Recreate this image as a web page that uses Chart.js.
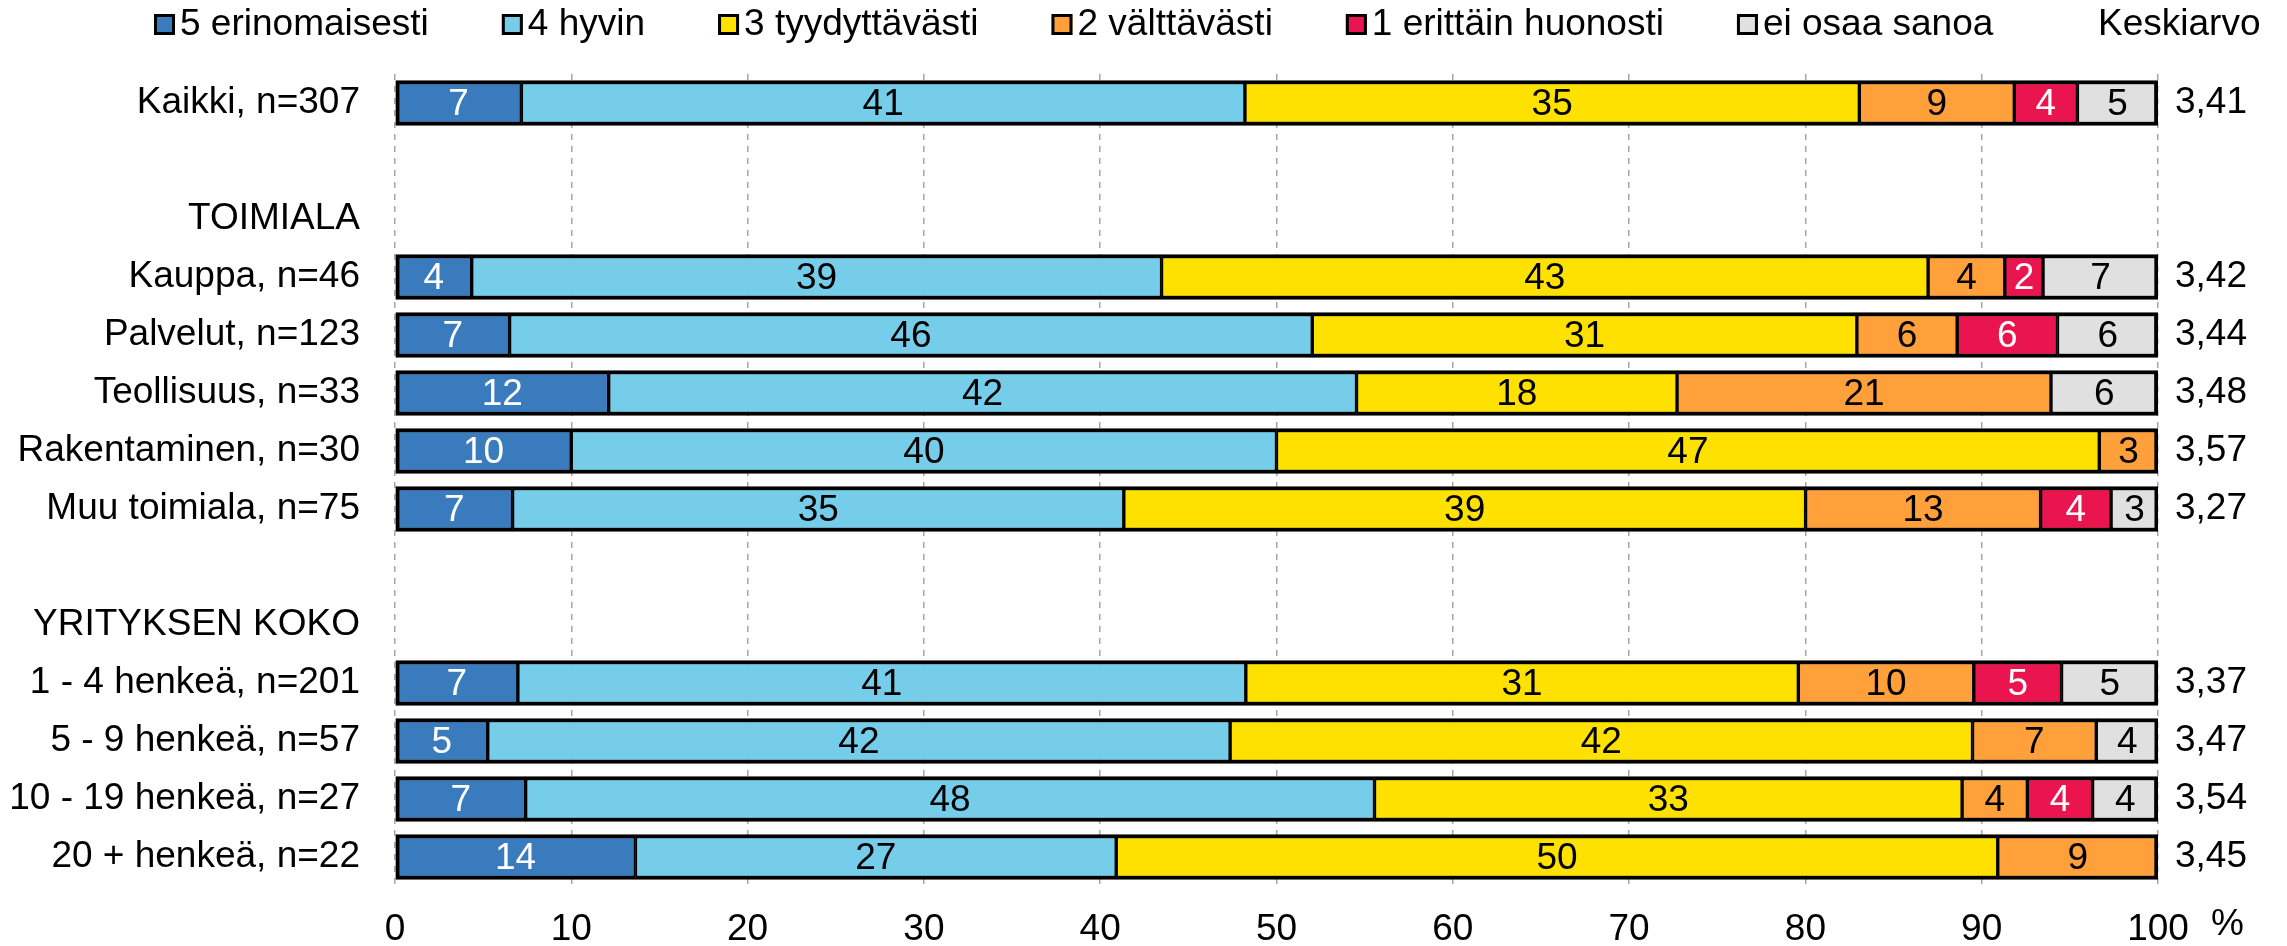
<!DOCTYPE html>
<html>
<head>
<meta charset="utf-8">
<script src="https://cdn.jsdelivr.net/npm/chart.js@4"></script>
<style>
  body { margin: 0; background: #fff; }
  canvas { display: block; }
</style>
</head>
<body>
<canvas id="chart" width="2287" height="946"></canvas>
<script>

var categories = [
  "Kaikki, n=307",
  "",
  "TOIMIALA",
  "Kauppa, n=46",
  "Palvelut, n=123",
  "Teollisuus, n=33",
  "Rakentaminen, n=30",
  "Muu toimiala, n=75",
  "",
  "YRITYKSEN KOKO",
  "1 - 4 henkeä, n=201",
  "5 - 9 henkeä, n=57",
  "10 - 19 henkeä, n=27",
  "20 + henkeä, n=22"
];

var averages = [
  "3,41", "", "",
  "3,42", "3,44", "3,48", "3,57", "3,27",
  "", "",
  "3,37", "3,47", "3,54", "3,45"
];

var seriesNames = [
  "5 erinomaisesti",
  "4 hyvin",
  "3 tyydyttävästi",
  "2 välttävästi",
  "1 erittäin huonosti",
  "ei osaa sanoa"
];

// percentages per row
var erinomaisesti = [7.17, null, null, 4.35, 6.50, 12.12, 10.00, 6.67, null, null, 6.97, 5.26, 7.41, 13.64];
var hyvin = [41.04, null, null, 39.13, 45.53, 42.42, 40.00, 34.67, null, null, 41.29, 42.11, 48.15, 27.27];
var tyydyttavasti = [34.85, null, null, 43.48, 30.89, 18.18, 46.67, 38.67, null, null, 31.34, 42.11, 33.33, 50.00];
var valttavasti = [8.79, null, null, 4.35, 5.69, 21.21, 3.33, 13.33, null, null, 9.95, 7.02, 3.70, 9.09];
var huonosti = [3.58, null, null, 2.17, 5.69, 0, 0, 4.00, null, null, 4.98, 0, 3.70, 0];
var eos = [4.56, null, null, 6.52, 5.69, 6.06, 0, 2.67, null, null, 5.47, 3.51, 3.70, 0];

var xTicks = [0, 10, 20, 30, 40, 50, 60, 70, 80, 90, 100];

var barColors = ["#3a7bbd", "#75cdea", "#ffe100", "#ffa03a", "#ea144f", "#e0e0e0"];
var labelColors = ["#fff", "#000", "#000", "#000", "#fff", "#000"];

Chart.defaults.font.family = "'Liberation Sans', Arial, sans-serif";
Chart.defaults.font.size = 37;
Chart.defaults.color = "#000";

var allSeries = [erinomaisesti, hyvin, tyydyttavasti, valttavasti, huonosti, eos];

// outer edges of a row get the full outline, shared edges half each
function isLastInRow(di, row) {
  for (var k = di + 1; k < allSeries.length; k++) {
    if (allSeries[k][row]) return false;
  }
  return true;
}

var datasets = allSeries.map(function (values, i) {
  return {
    label: seriesNames[i],
    data: values,
    backgroundColor: barColors[i],
    borderColor: "#000",
    borderWidth: function (c) {
      return {
        top: 4,
        bottom: 4,
        left: i === 0 ? 4 : 2,
        right: isLastInRow(i, c.dataIndex) ? 4 : 2
      };
    },
    borderSkipped: false,
    barThickness: 45
  };
});

// numbers inside the segments
var segmentLabels = {
  id: "segmentLabels",
  afterDatasetsDraw: function (chart) {
    var ctx = chart.ctx;
    ctx.save();
    ctx.font = "37px 'Liberation Sans', Arial, sans-serif";
    ctx.textAlign = "center";
    ctx.textBaseline = "middle";
    chart.data.datasets.forEach(function (ds, i) {
      var meta = chart.getDatasetMeta(i);
      meta.data.forEach(function (bar, j) {
        var v = ds.data[j];
        if (!v) return;
        var p = bar.getCenterPoint();
        ctx.fillStyle = labelColors[i];
        ctx.fillText(Math.round(v), p.x, p.y + 2);
      });
    });
    ctx.restore();
  }
};

// legend row + "Keskiarvo" header + "%" unit
var topLegend = {
  id: "topLegend",
  afterDraw: function (chart) {
    var ctx = chart.ctx;
    ctx.save();
    ctx.font = "37px 'Liberation Sans', Arial, sans-serif";
    ctx.textBaseline = "middle";
    ctx.textAlign = "left";
    var x = 154;
    var y = 24;
    chart.data.datasets.forEach(function (ds) {
      ctx.fillStyle = ds.backgroundColor;
      ctx.fillRect(x, y - 10, 21, 21);
      ctx.lineWidth = 3;
      ctx.strokeStyle = "#000";
      ctx.strokeRect(x + 1.5, y - 8.5, 18, 18);
      ctx.fillStyle = "#000";
      ctx.fillText(ds.label, x + 26, y + 1);
      x += 26 + ctx.measureText(ds.label).width + 73;
    });
    ctx.fillText("Keskiarvo", 2098, y + 1);

    var xs = chart.scales.x;
    ctx.fillText("%", xs.getPixelForValue(100) + 53, 925);
    ctx.restore();
  }
};

new Chart("chart", {
  type: "bar",
  data: {
    labels: categories,
    datasets: datasets
  },
  options: {
    indexAxis: "y",
    responsive: false,
    animation: false,
    devicePixelRatio: 1,
    layout: { padding: { top: 74, left: 0, right: 0, bottom: 0 } },
    plugins: {
      legend: { display: false },
      tooltip: { enabled: false }
    },
    scales: {
      x: {
        stacked: true,
        min: 0,
        max: 100,
        afterBuildTicks: function (scale) {
          scale.ticks = xTicks.map(function (v) { return { value: v }; });
        },
        afterFit: function (scale) { scale.height = 60; },
        grid: { color: "#a6a6a6", lineWidth: 1.5, drawTicks: false },
        border: { display: false, dash: [6, 6] },
        ticks: { padding: 22, font: { size: 37 } }
      },
      y: {
        stacked: true,
        afterFit: function (scale) { scale.width = 395; },
        grid: { display: false, drawTicks: false },
        border: { display: false },
        ticks: { padding: 35, font: { size: 37 }, autoSkip: false }
      },
      y2: {
        type: "category",
        labels: averages,
        position: "right",
        offset: true,
        afterFit: function (scale) { scale.width = 129; },
        grid: { display: false, drawTicks: false },
        border: { display: false },
        ticks: { padding: 17, font: { size: 37 }, autoSkip: false }
      }
    }
  },
  plugins: [segmentLabels, topLegend]
});
</script>
</body>
</html>
